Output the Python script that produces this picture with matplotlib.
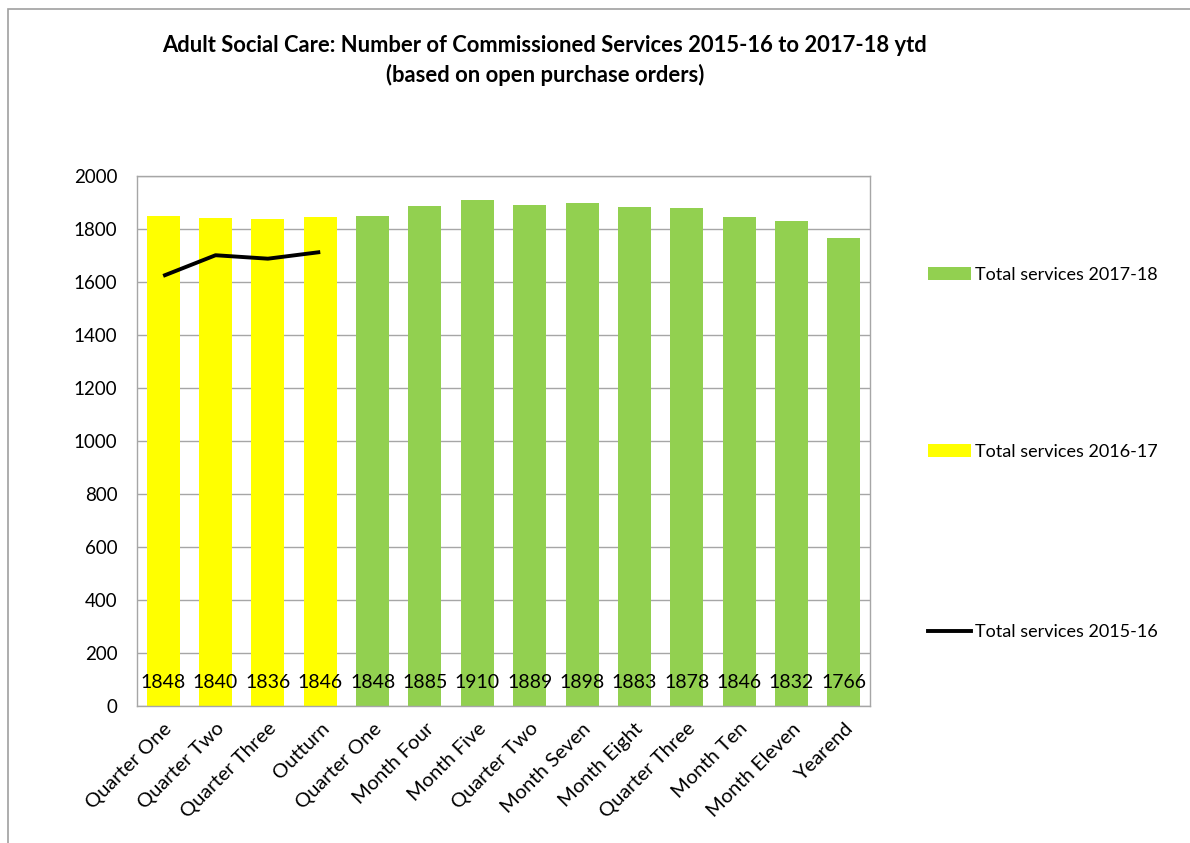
"""
Adult Social Care commissioned services, 2015-16 to 2017-18 ytd.
Saves out.png.
"""
import matplotlib.pyplot as plt
from matplotlib.patches import Patch, Rectangle
from matplotlib.lines import Line2D

plt.rcParams["font.family"] = ["Lato", "DejaVu Sans"]

LABELS_1617 = ["Quarter One", "Quarter Two", "Quarter Three", "Outturn"]
LABELS_1718 = ["Quarter One", "Month Four", "Month Five", "Quarter Two", "Month Seven",
               "Month Eight", "Quarter Three", "Month Ten", "Month Eleven", "Yearend"]
TOTAL_1617 = [1848, 1840, 1836, 1846]
TOTAL_1718 = [1848, 1885, 1910, 1889, 1898, 1883, 1878, 1846, 1832, 1766]
TOTAL_1516 = [1623, 1701, 1688, 1713]

YELLOW = "#FFFF00"
GREEN = "#92D050"
GRID = "#A6A6A6"

fig = plt.figure(figsize=(11.9, 8.43), dpi=100)
ax = fig.add_axes([137 / 1190, 1 - 706 / 843, 733 / 1190, 530 / 843])

# outer chart frame (only left/top edges fall inside the image)
fig.patches.append(Rectangle((8 / 1190, -0.05), 1.2, 1 - 9 / 843 + 0.05,
                             transform=fig.transFigure, fill=False,
                             edgecolor="#A0A0A0", linewidth=1.2))

labels = LABELS_1617 + LABELS_1718
x1617 = list(range(len(TOTAL_1617)))
x1718 = list(range(len(TOTAL_1617), len(labels)))
width = 0.63

ax.bar(x1617, TOTAL_1617, width=width, color=YELLOW, zorder=2)
ax.bar(x1718, TOTAL_1718, width=width, color=GREEN, zorder=2)
ax.plot(x1617, TOTAL_1516, color="black", linewidth=2.8, zorder=3,
        solid_capstyle="butt")

for x, v in zip(x1617 + x1718, TOTAL_1617 + TOTAL_1718):
    ax.text(x, 88, str(v), ha="center", va="center", fontsize=14, zorder=4)

ax.set_xlim(-0.5, len(labels) - 0.5)
ax.set_ylim(0, 2000)
ax.set_yticks(range(0, 2001, 200))
ax.set_xticks(range(len(labels)))
ax.set_xticklabels(labels, rotation=45, ha="right", rotation_mode="anchor",
                   fontsize=14.5)
ax.tick_params(axis="y", labelsize=13.5, length=0, pad=14)
ax.tick_params(axis="x", length=0, pad=10)
ax.yaxis.grid(True, color=GRID, linewidth=1)
ax.set_axisbelow(True)
for s in ax.spines.values():
    s.set_color(GRID)
    s.set_linewidth(1)

fig.text(545 / 1190, 1 - 45 / 843,
         "Adult Social Care: Number of Commissioned Services 2015-16 to 2017-18 ytd",
         ha="center", va="center", fontsize=15.8, fontweight="bold")
fig.text(545 / 1190, 1 - 75 / 843, "(based on open purchase orders)",
         ha="center", va="center", fontsize=15.8, fontweight="bold")

entries = [
    (Patch(facecolor=GREEN), "Total services 2017-18", 275),
    (Patch(facecolor=YELLOW), "Total services 2016-17", 452),
    (Line2D([], [], color="black", linewidth=2.8), "Total services 2015-16", 632),
]
for handle, text, ypx in entries:
    leg = fig.legend([handle], [text], loc="center left",
                     bbox_to_anchor=(928 / 1190, 1 - ypx / 843),
                     frameon=False, fontsize=13, handlelength=2.4,
                     handleheight=0.7, handletextpad=0.22, borderpad=0,
                     borderaxespad=0)

fig.savefig("out.png", dpi=100, facecolor="white")
